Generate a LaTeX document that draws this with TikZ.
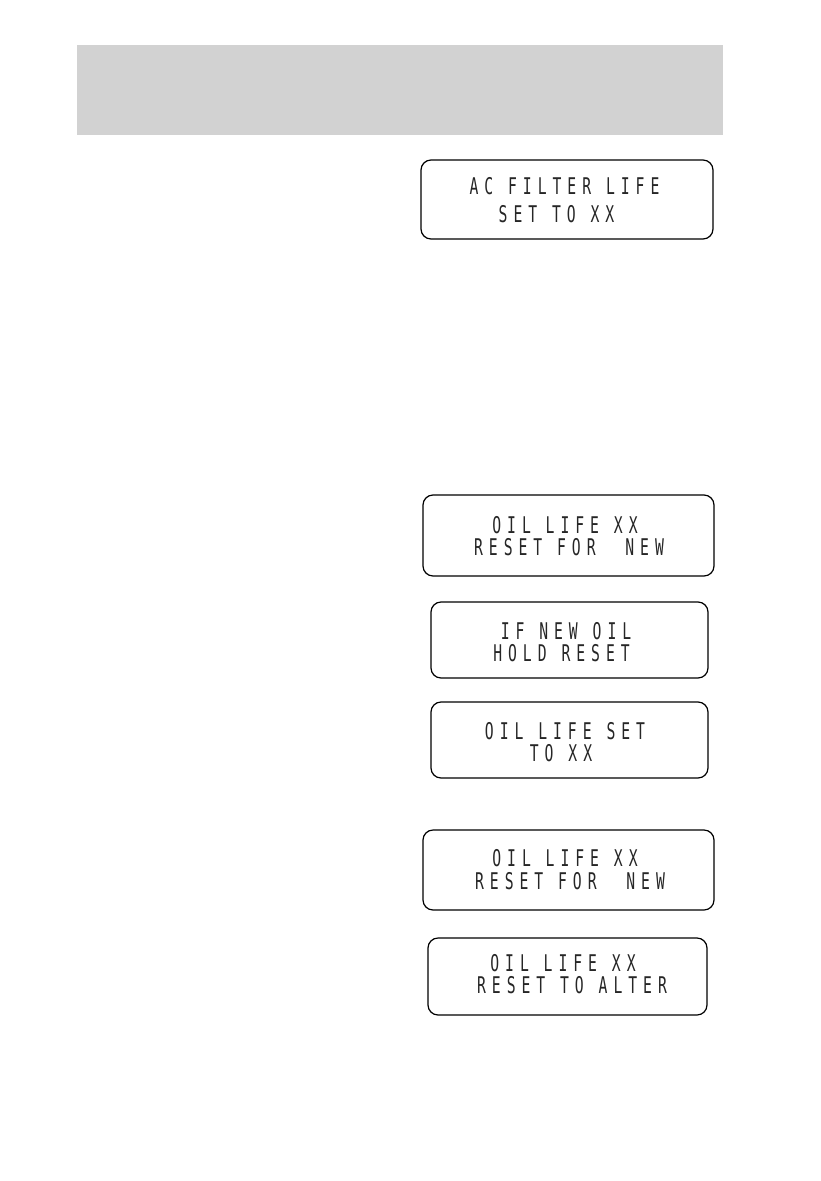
\documentclass[tikz,border=0pt]{standalone}
\usepackage{fontspec}
\usepackage{xcolor}
\usepackage{tikz}
\usetikzlibrary{positioning,calc}

\newfontfamily\lcdfont[FakeStretch=0.64,LetterSpace=26]{DejaVu Sans Mono}
\definecolor{bandgray}{RGB}{210,210,210}

\tikzset{
  lcdbox/.style={draw=black,line width=1.2pt,rounded corners=10pt,inner sep=0pt},
  lcdtext/.style={inner sep=0pt,text=black!85,font=\lcdfont\fontsize{23}{27}\selectfont}
}

\begin{document}
\begin{tikzpicture}[x=1pt,y=-1pt]
\useasboundingbox (0,0) rectangle (821,1181);

% Header band
\fill[bandgray] (77,45) rectangle (723,135);

% AC filter display
\node[lcdbox,minimum width=292,minimum height=79] (acbox) at (567,199.5) {};
\node[lcdtext] (acA) at (564.5,186) {AC FILTER LIFE};
\node[lcdtext] (acB) at (556.5,214.5) {SET TO XX};

% Oil life, reset for new
\node[lcdbox,minimum width=291,minimum height=81] (oilbox) at (568.5,535.5) {};
\node[lcdtext] (oilA) at (565,525) {OIL LIFE XX};
\node[lcdtext] (oilB) at (569,547.5) {RESET FOR~~NEW};

% If new oil
\node[lcdbox,minimum width=277,minimum height=76] (holdbox) at (569.5,640) {};
\node[lcdtext] (holdA) at (566,631.5) {IF NEW OIL};
\node[lcdtext] (holdB) at (561.5,653.5) {HOLD RESET};

% Oil life set
\node[lcdbox,minimum width=277,minimum height=76] (setbox) at (569.5,740) {};
\node[lcdtext] (setA) at (565,731.5) {OIL LIFE SET};
\node[lcdtext] (setB) at (561,753) {TO XX};

% Oil life, reset for new (again)
\node[lcdbox,minimum width=291,minimum height=80] (newbox) at (568.5,870) {};
\node[lcdtext] (newA) at (565,858.5) {OIL LIFE XX};
\node[lcdtext] (newB) at (570,881.5) {RESET FOR~~NEW};

% Oil life, reset to alter
\node[lcdbox,minimum width=279,minimum height=77] (altbox) at (567.5,976.5) {};
\node[lcdtext] (altA) at (563,963.5) {OIL LIFE XX};
\node[lcdtext] (altB) at (572,985.5) {RESET TO ALTER};
\end{tikzpicture}
\end{document}
